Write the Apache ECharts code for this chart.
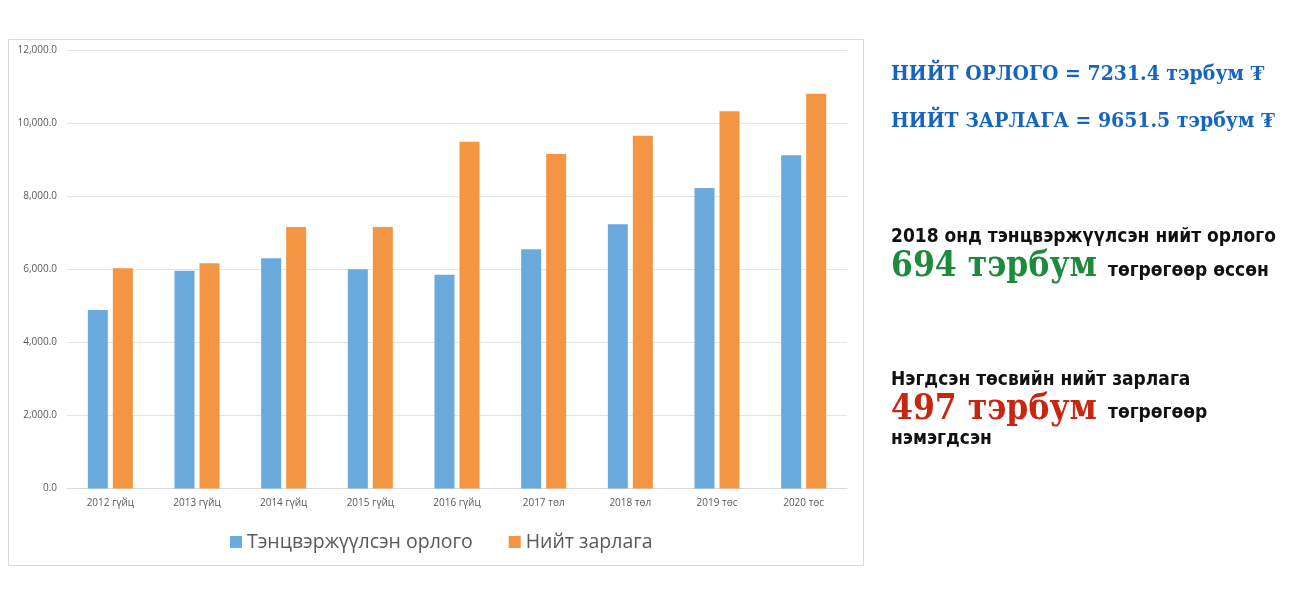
<!DOCTYPE html>
<html>
<head>
<meta charset="utf-8">
<script src="https://cdn.jsdelivr.net/npm/echarts@6/dist/echarts.min.js"></script>
<style>
html,body{margin:0;padding:0;background:#fff;}
#chartDiv{width:1300px;height:599px;}
</style>
</head>
<body>
<div id="chartDiv"></div>
<script>
var years = ['2012 гүйц','2013 гүйц','2014 гүйц','2015 гүйц','2016 гүйц','2017 төл','2018 төл','2019 төс','2020 төс'];
var revenue = [4885, 5961, 6300, 5998, 5851, 6546, 7231.4, 8224, 9118];
var expense = [6026, 6163, 7156, 7156, 9491, 9154, 9651.5, 10322, 10805];
var seriesNames = ['Тэнцвэржүүлсэн орлого', 'Нийт зарлага'];

var myChart = echarts.init(document.getElementById('chartDiv'));

var boldSans = '"DejaVu Sans Condensed", "DejaVu Sans", sans-serif';
var slab = '"DejaVu Serif Condensed", "DejaVu Serif", serif';

var option = {
    animation: false,
    color: ['#6aaadc', '#f39542'],
    legend: {
        left: 225,
        top: 527,
        itemWidth: 12,
        itemHeight: 12,
        itemGap: 36,
        icon: 'rect',
        textStyle: {color: '#595959', fontSize: 19.5, fontFamily: '"Open Sans", sans-serif'},
        data: seriesNames
    },
    grid: {
        left: 67,
        right: 453,
        top: 50,
        bottom: 110.5
    },
    xAxis: {
        type: 'category',
        data: years,
        axisTick: {show: false},
        axisLine: {lineStyle: {color: '#d9d9d9'}},
        axisLabel: {color: '#595959', fontSize: 10, margin: 10, fontFamily: '"Open Sans", sans-serif'}
    },
    yAxis: {
        type: 'value',
        min: 0,
        max: 12000,
        interval: 2000,
        axisLine: {show: false},
        axisTick: {show: false},
        axisLabel: {
            color: '#595959',
            fontSize: 10,
            margin: 10,
            fontFamily: '"Open Sans", sans-serif',
            formatter: function (v) {
                return v.toLocaleString('en-US', {minimumFractionDigits: 1, maximumFractionDigits: 1});
            }
        },
        splitLine: {lineStyle: {color: '#e4e4e4'}}
    },
    series: [
        {name: seriesNames[0], type: 'bar', barWidth: 20, barGap: '25%', data: revenue},
        {name: seriesNames[1], type: 'bar', barWidth: 20, barGap: '25%', data: expense}
    ],
    graphic: [
        {type: 'rect', shape: {x: 8.5, y: 39.5, width: 855, height: 526}, style: {fill: 'none', stroke: '#d9d9d9', lineWidth: 1}, z: -1},
        {type: 'text', left: 891, top: 64, style: {text: 'НИЙТ ОРЛОГО = 7231.4 тэрбум ₮', fill: '#1565c0', font: 'bold 21px ' + slab}},
        {type: 'text', left: 891, top: 111, style: {text: 'НИЙТ ЗАРЛАГА = 9651.5 тэрбум ₮', fill: '#1565c0', font: 'bold 21px ' + slab}},
        {type: 'text', left: 891, top: 228, style: {text: '2018 онд тэнцвэржүүлсэн нийт орлого', fill: '#111', font: 'bold 19px ' + boldSans}},
        {type: 'text', left: 891, top: 249, style: {text: '694 тэрбум', fill: '#1e8a3c', font: 'bold 35px ' + slab}},
        {type: 'text', left: 1108, top: 262, style: {text: 'төгрөгөөр өссөн', fill: '#111', font: 'bold 19px ' + boldSans}},
        {type: 'text', left: 891, top: 371, style: {text: 'Нэгдсэн төсвийн нийт зарлага', fill: '#111', font: 'bold 19px ' + boldSans}},
        {type: 'text', left: 891, top: 392, style: {text: '497 тэрбум', fill: '#c9260f', font: 'bold 35px ' + slab}},
        {type: 'text', left: 1108, top: 404, style: {text: 'төгрөгөөр', fill: '#111', font: 'bold 19px ' + boldSans}},
        {type: 'text', left: 891, top: 430, style: {text: 'нэмэгдсэн', fill: '#111', font: 'bold 19px ' + boldSans}}
    ]
};

myChart.setOption(option);
window.addEventListener('resize', function () {
    myChart.resize();
});
</script>
</body>
</html>
